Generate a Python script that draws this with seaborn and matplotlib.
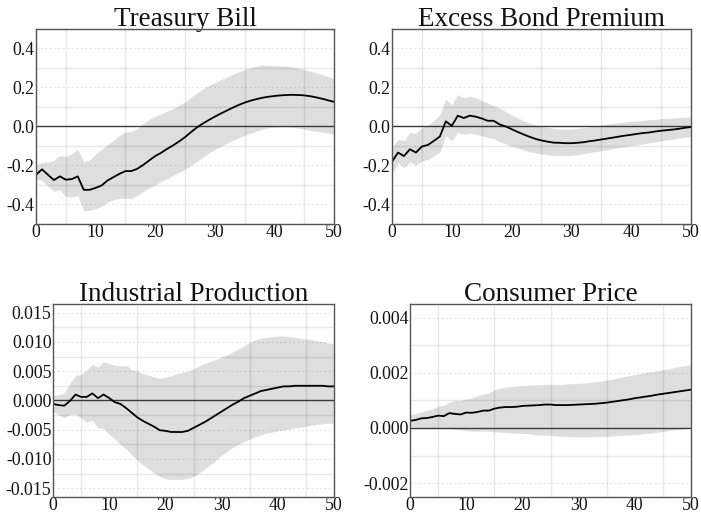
import numpy as np
import pandas as pd
import matplotlib
matplotlib.use("Agg")
import matplotlib.pyplot as plt
from matplotlib.ticker import FixedLocator
import seaborn as sns

horizon = list(range(51))

# Treasury Bill response and band
tbill_irf = [-0.248, -0.220, -0.248, -0.275, -0.256, -0.273, -0.270, -0.256, -0.325, -0.325,
             -0.315, -0.303, -0.277, -0.260, -0.243, -0.229, -0.229, -0.217, -0.197, -0.174,
             -0.152, -0.135, -0.115, -0.097, -0.077, -0.055, -0.029, -0.005, 0.015, 0.033,
             0.050, 0.066, 0.081, 0.096, 0.110, 0.122, 0.132, 0.140, 0.147, 0.152,
             0.156, 0.159, 0.161, 0.162, 0.161, 0.159, 0.155, 0.149, 0.142, 0.134, 0.126]
tbill_hi = [-0.200, -0.183, -0.183, -0.174, -0.149, -0.154, -0.140, -0.118, -0.180, -0.171,
            -0.140, -0.118, -0.094, -0.072, -0.046, -0.029, -0.026, -0.012, 0.014, 0.036,
            0.051, 0.065, 0.079, 0.090, 0.108, 0.125, 0.150, 0.171, 0.193, 0.210,
            0.224, 0.239, 0.253, 0.267, 0.280, 0.292, 0.300, 0.309, 0.315, 0.313,
            0.311, 0.309, 0.309, 0.304, 0.299, 0.292, 0.284, 0.275, 0.265, 0.255, 0.244]
tbill_lo = [-0.268, -0.277, -0.306, -0.332, -0.325, -0.359, -0.362, -0.354, -0.431, -0.431,
            -0.422, -0.409, -0.388, -0.376, -0.368, -0.368, -0.371, -0.354, -0.333, -0.315,
            -0.299, -0.282, -0.268, -0.251, -0.236, -0.220, -0.200, -0.178, -0.157, -0.137,
            -0.118, -0.103, -0.085, -0.072, -0.058, -0.046, -0.034, -0.024, -0.014, -0.007,
            -0.003, -0.002, -0.002, -0.003, -0.009, -0.014, -0.021, -0.026, -0.029, -0.034, -0.039]

# Excess Bond Premium response and band
ebp_irf = [-0.181, -0.134, -0.152, -0.117, -0.134, -0.103, -0.095, -0.074, -0.052, 0.026,
           0.003, 0.055, 0.043, 0.055, 0.050, 0.041, 0.029, 0.029, 0.010, 0.000,
           -0.014, -0.028, -0.041, -0.053, -0.064, -0.072, -0.078, -0.083, -0.084, -0.086,
           -0.086, -0.084, -0.081, -0.076, -0.072, -0.067, -0.062, -0.057, -0.052, -0.047,
           -0.043, -0.038, -0.034, -0.031, -0.026, -0.022, -0.019, -0.016, -0.012, -0.007, -0.003]
ebp_hi = [-0.109, -0.066, -0.074, -0.031, -0.036, -0.005, 0.007, 0.029, 0.059, 0.141,
          0.110, 0.162, 0.147, 0.155, 0.147, 0.133, 0.119, 0.107, 0.093, 0.076,
          0.059, 0.045, 0.029, 0.017, 0.007, 0.000, -0.005, -0.010, -0.014, -0.014,
          -0.014, -0.010, -0.007, -0.003, 0.002, 0.007, 0.012, 0.016, 0.019, 0.022,
          0.026, 0.028, 0.031, 0.034, 0.036, 0.040, 0.041, 0.043, 0.045, 0.047, 0.048]
ebp_lo = [-0.241, -0.186, -0.212, -0.181, -0.198, -0.178, -0.169, -0.152, -0.131, -0.048,
          -0.074, -0.031, -0.040, -0.034, -0.040, -0.048, -0.057, -0.062, -0.078, -0.090,
          -0.100, -0.110, -0.121, -0.129, -0.136, -0.141, -0.145, -0.148, -0.150, -0.150,
          -0.148, -0.145, -0.140, -0.134, -0.129, -0.124, -0.119, -0.114, -0.109, -0.103,
          -0.098, -0.095, -0.090, -0.084, -0.079, -0.074, -0.069, -0.066, -0.060, -0.055, -0.052]

# Industrial Production response and band
ip_irf = [-0.0006, -0.0008, -0.0009, -0.0001, 0.0010, 0.0006, 0.0006, 0.0012, 0.0004, 0.0010,
          0.0004, -0.0003, -0.0006, -0.0013, -0.0021, -0.0029, -0.0035, -0.0040, -0.0045, -0.0051,
          -0.0052, -0.0054, -0.0054, -0.0054, -0.0052, -0.0047, -0.0042, -0.0037, -0.0031, -0.0025,
          -0.0019, -0.0013, -0.0007, -0.0002, 0.0004, 0.0008, 0.0012, 0.0016, 0.0018, 0.0020,
          0.0022, 0.0024, 0.0024, 0.0025, 0.0025, 0.0025, 0.0025, 0.0025, 0.0025, 0.0024, 0.0024]
ip_hi = [0.0008, 0.0010, 0.0012, 0.0029, 0.0043, 0.0044, 0.0052, 0.0062, 0.0057, 0.0066,
         0.0063, 0.0060, 0.0059, 0.0060, 0.0053, 0.0050, 0.0046, 0.0043, 0.0040, 0.0038,
         0.0040, 0.0042, 0.0046, 0.0048, 0.0050, 0.0054, 0.0059, 0.0063, 0.0067, 0.0070,
         0.0074, 0.0078, 0.0083, 0.0088, 0.0094, 0.0099, 0.0104, 0.0106, 0.0108, 0.0109,
         0.0110, 0.0110, 0.0109, 0.0108, 0.0106, 0.0105, 0.0104, 0.0102, 0.0101, 0.0098, 0.0096]
ip_lo = [-0.0019, -0.0024, -0.0030, -0.0024, -0.0023, -0.0030, -0.0037, -0.0034, -0.0047, -0.0048,
         -0.0058, -0.0066, -0.0075, -0.0083, -0.0093, -0.0102, -0.0110, -0.0117, -0.0124, -0.0130,
         -0.0134, -0.0135, -0.0135, -0.0135, -0.0133, -0.0130, -0.0124, -0.0117, -0.0110, -0.0102,
         -0.0094, -0.0087, -0.0080, -0.0075, -0.0070, -0.0066, -0.0062, -0.0059, -0.0056, -0.0054,
         -0.0052, -0.0051, -0.0049, -0.0047, -0.0046, -0.0044, -0.0042, -0.0041, -0.0040, -0.0039, -0.0039]

# Consumer Price response and band
cpi_irf = [0.00026, 0.00029, 0.00035, 0.00036, 0.00040, 0.00045, 0.00043, 0.00054, 0.00051, 0.00049,
           0.00056, 0.00055, 0.00058, 0.00063, 0.00063, 0.00070, 0.00074, 0.00076, 0.00076, 0.00077,
           0.00080, 0.00081, 0.00082, 0.00083, 0.00085, 0.00085, 0.00083, 0.00083, 0.00083, 0.00084,
           0.00085, 0.00086, 0.00087, 0.00088, 0.00090, 0.00092, 0.00095, 0.00098, 0.00101, 0.00104,
           0.00108, 0.00111, 0.00114, 0.00117, 0.00121, 0.00124, 0.00127, 0.00130, 0.00133, 0.00136, 0.00139]
cpi_hi = [0.00049, 0.00052, 0.00058, 0.00063, 0.00070, 0.00079, 0.00082, 0.00094, 0.00100, 0.00099,
          0.00106, 0.00108, 0.00117, 0.00123, 0.00126, 0.00138, 0.00144, 0.00148, 0.00150, 0.00152,
          0.00154, 0.00155, 0.00156, 0.00157, 0.00158, 0.00158, 0.00158, 0.00158, 0.00160, 0.00161,
          0.00162, 0.00163, 0.00165, 0.00168, 0.00170, 0.00174, 0.00177, 0.00182, 0.00186, 0.00189,
          0.00194, 0.00198, 0.00201, 0.00205, 0.00208, 0.00212, 0.00215, 0.00219, 0.00223, 0.00226, 0.00229]
cpi_lo = [0.00004, 0.00002, 0.00001, 0.00000, 0.00000, -0.00001, -0.00002, -0.00002, -0.00005, -0.00007,
          -0.00010, -0.00011, -0.00012, -0.00011, -0.00012, -0.00014, -0.00015, -0.00017, -0.00018, -0.00019,
          -0.00020, -0.00021, -0.00024, -0.00025, -0.00026, -0.00027, -0.00029, -0.00030, -0.00031, -0.00032,
          -0.00032, -0.00032, -0.00032, -0.00031, -0.00031, -0.00030, -0.00029, -0.00027, -0.00026, -0.00025,
          -0.00024, -0.00022, -0.00020, -0.00018, -0.00015, -0.00013, -0.00010, -0.00007, -0.00005, -0.00002, 0.00000]

titles = ["Treasury Bill", "Excess Bond Premium", "Industrial Production", "Consumer Price"]
ylims = [(-0.5, 0.5), (-0.5, 0.5), (-0.0165, 0.0165), (-0.0025, 0.0045)]
yticks = [[-0.4, -0.2, 0.0, 0.2, 0.4],
          [-0.4, -0.2, 0.0, 0.2, 0.4],
          [-0.015, -0.010, -0.005, 0.0, 0.005, 0.010, 0.015],
          [-0.002, 0.0, 0.002, 0.004]]
ytick_fmt = ["{:.1f}", "{:.1f}", "{:.3f}", "{:.3f}"]
xticks = [0, 10, 20, 30, 40, 50]

series = [(tbill_irf, tbill_lo, tbill_hi), (ebp_irf, ebp_lo, ebp_hi),
          (ip_irf, ip_lo, ip_hi), (cpi_irf, cpi_lo, cpi_hi)]

sns.set_theme(style="white")
plt.rcParams["font.family"] = ["Liberation Serif", "DejaVu Serif"]

fig = plt.figure(figsize=(7.01, 5.16), dpi=100)
positions = [
    [0.0514, 0.566, 0.4251, 0.378],
    [0.5592, 0.566, 0.4265, 0.378],
    [0.0756, 0.037, 0.4009, 0.374],
    [0.5849, 0.037, 0.4009, 0.374],
]

for i, (title, (irf, lo, hi)) in enumerate(zip(titles, series)):
    ax = fig.add_axes(positions[i])
    df = pd.DataFrame({"h": horizon, "irf": irf, "lo": lo, "hi": hi})
    ax.fill_between(df["h"], df["lo"], df["hi"], color="#dedede", lw=0, zorder=1)
    ax.axhline(0, color="#3a3a3a", lw=1.0, zorder=3)
    sns.lineplot(data=df, x="h", y="irf", ax=ax, color="black", lw=1.3, zorder=4)

    ax.set_xlim(0, 50)
    ax.set_ylim(*ylims[i])
    ax.xaxis.set_major_locator(FixedLocator(xticks))
    ax.xaxis.set_minor_locator(FixedLocator([5, 15, 25, 35, 45]))
    yt = yticks[i]
    ax.yaxis.set_major_locator(FixedLocator(yt))
    step = yt[1] - yt[0]
    minor = [v + step / 2 for v in yt] + [yt[0] - step / 2]
    ax.yaxis.set_minor_locator(FixedLocator(minor))
    ax.set_yticklabels([ytick_fmt[i].format(v) for v in yt])
    ax.set_xticklabels([str(v) for v in xticks])

    # dotted lines at the labelled y levels, solid faint lines in between
    ax.grid(which="major", axis="y", color="#000000", alpha=0.12, lw=0.8,
            ls=(0, (1.5, 2.5)), zorder=2)
    ax.grid(which="minor", axis="both", color="#000000", alpha=0.09, lw=1.0, ls="-", zorder=2)
    ax.set_axisbelow(False)
    for gl in ax.get_xgridlines() + ax.get_ygridlines():
        gl.set_zorder(2)

    ax.tick_params(which="both", length=0, labelsize=12.8, colors="#111111")
    ax.tick_params(axis="y", pad=1)
    ax.tick_params(axis="x", pad=0)
    for sp in ax.spines.values():
        sp.set_color("#555555")
        sp.set_linewidth(1.0)
        sp.set_zorder(5)
    ax.set_xlabel("")
    ax.set_ylabel("")
    ax.set_title(title, fontsize=19.5, pad=2, color="#111111")

fig.savefig("out.png", dpi=100)
